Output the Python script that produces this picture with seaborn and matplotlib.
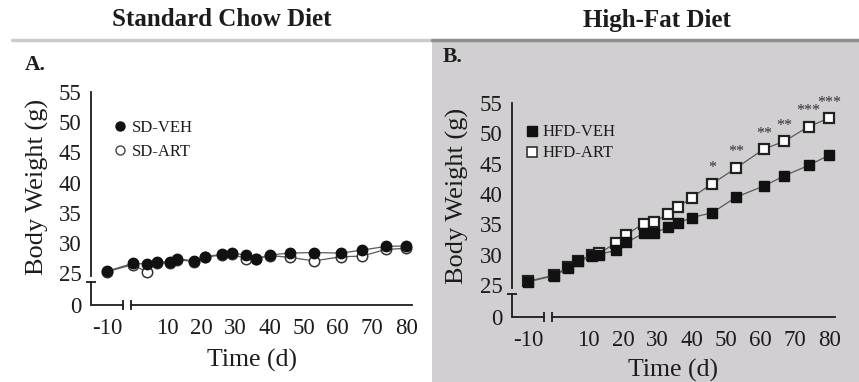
import numpy as np
import pandas as pd
import matplotlib
matplotlib.use("Agg")
import matplotlib.pyplot as plt
from matplotlib.lines import Line2D
from matplotlib.patches import Rectangle
import seaborn as sns

# ---------------- data ----------------
days = [-10, 0, 4, 7, 11, 13, 18, 21, 26, 29, 33, 36, 40, 46, 53, 61, 67, 74, 80]

sd_veh = [25.3, 26.6, 26.5, 26.9, 26.8, 27.4, 27.0, 27.7, 28.1, 28.3, 28.0, 27.3,
          28.0, 28.3, 28.4, 28.3, 28.8, 29.4, 29.5]
sd_art = [25.2, 26.4, 25.2, 26.7, 26.6, 27.2, 26.9, 27.6, 28.0, 28.1, 27.4, 27.3,
          27.9, 27.6, 27.0, 27.7, 27.8, 28.9, 29.1]

hfd_veh = [25.5, 26.5, 27.8, 28.9, 29.7, 30.0, 30.7, 32.0, 33.5, 33.5, 34.5, 35.2,
           36.1, 36.9, 39.5, 41.3, 43.0, 44.7, 46.4]
hfd_art = [25.6, 26.6, 27.9, 29.0, 29.9, 30.2, 31.9, 33.3, 35.1, 35.3, 36.7, 37.8,
           39.4, 41.7, 44.3, 47.4, 48.7, 51.1, 52.5]
hfd_stars = ["", "", "", "", "", "", "", "", "", "", "", "",
             "", "*", "**", "**", "**", "***", "***"]

xtick_vals = [-10, 10, 20, 30, 40, 50, 60, 70, 80]
xtick_labels = ["-10", "10", "20", "30", "40", "50", "60", "70", "80"]
ytick_vals = [0, 25, 30, 35, 40, 45, 50, 55]
ytick_labels = ["0", "25", "30", "35", "40", "45", "50", "55"]

titles = ["Standard Chow Diet", "High-Fat Diet"]
panel_letters = ["A.", "B."]
sd_labels = ["SD-VEH", "SD-ART"]
hfd_labels = ["HFD-VEH", "HFD-ART"]

# ---------------- style ----------------
sns.set_style("white")
plt.rcParams["font.family"] = ["Liberation Serif", "DejaVu Serif"]
TXT = "#1c1c1c"
plt.rcParams["text.color"] = TXT
plt.rcParams["axes.labelcolor"] = TXT
plt.rcParams["xtick.color"] = TXT
plt.rcParams["ytick.color"] = TXT

W, H = 859, 382
fig = plt.figure(figsize=(W / 100, H / 100), dpi=100)
fig.patch.set_facecolor("white")

# gray background of the right half + separator
fig.add_artist(Rectangle((432 / W, 0), 1 - 432 / W, 1 - 41 / H,
                         transform=fig.transFigure, facecolor="#d1cfd1",
                         edgecolor="none", zorder=-10))
fig.add_artist(Line2D([12 / W, 432 / W], [1 - 40 / H] * 2, transform=fig.transFigure,
                      color="#cbcbcb", lw=2.5, zorder=-5))
fig.add_artist(Line2D([432 / W, 1], [1 - 40 / H] * 2, transform=fig.transFigure,
                      color="#8e8e8e", lw=2.5, zorder=-5))

# broken-axis scales
XP = [-100, -5.3, -0.6, 200]
XU = [-97.6, -2.9, -0.6, 200]
YP = [-100, 0, 24.5, 200]
YU = [-80.3, 19.7, 24.5, 200]


def fx(x):
    return np.interp(x, XP, XU)


def ix(u):
    return np.interp(u, XU, XP)


def fy(y):
    return np.interp(y, YP, YU)


def iy(u):
    return np.interp(u, YU, YP)


XMIN, XMAX = -14.65, 81.7
YMIN, YMAX = 0, 55
XSEG1_END, XSEG2_START = -5.3, -0.6
YSEG_TOP_START, YSEG_LOW_END = 24.5, 19.4


def setup_axes(rect):
    ax = fig.add_axes(rect)
    ax.set_facecolor("none")
    ax.set_xscale("function", functions=(fx, ix))
    ax.set_yscale("function", functions=(fy, iy))
    ax.set_xlim(XMIN, XMAX)
    ax.set_ylim(YMIN, YMAX)
    return ax


def decorate(ax, ylab_y, xlab_y):
    for s in ["top", "right"]:
        ax.spines[s].set_visible(False)
    for s in ["left", "bottom"]:
        ax.spines[s].set_color(TXT)
        ax.spines[s].set_linewidth(1.3)
    ax.spines["left"].set_bounds(YSEG_TOP_START, YMAX)
    ax.spines["bottom"].set_bounds(XSEG2_START, XMAX)
    # lower y-axis stub and first x-axis segment
    ax.plot([XMIN, XMIN], [YMIN, YSEG_LOW_END], color=TXT, lw=1.3, clip_on=False)
    ax.plot([XMIN, XSEG1_END], [YMIN, YMIN], color=TXT, lw=1.3, clip_on=False)
    # break caps
    ax.plot([XSEG1_END, XSEG2_START], [YMIN, YMIN], ls="none", marker="|", ms=7,
            mew=1.3, color=TXT, clip_on=False)
    ax.plot([XMIN], [YSEG_LOW_END], ls="none", marker="_", ms=7, mew=1.3,
            color=TXT, clip_on=False)

    ax.set_xticks(xtick_vals)
    ax.set_xticklabels(xtick_labels)
    ax.set_yticks(ytick_vals)
    ax.set_yticklabels(ytick_labels)
    ax.minorticks_off()
    ax.tick_params(axis="both", direction="out", length=5, width=1.3,
                   labelsize=16.5, colors=TXT)
    ax.tick_params(axis="x", pad=4)
    ax.tick_params(axis="y", pad=2)
    ax.set_xlabel("Time (d)", fontsize=18.5)
    ax.set_ylabel("Body Weight (g)", fontsize=19)
    ax.xaxis.label.set_va("center")
    ax.yaxis.label.set_va("center")
    ax.xaxis.set_label_coords(0.50, xlab_y)
    ax.yaxis.set_label_coords(-54 / 321, ylab_y)


LINE = "#5a5a5a"
MK = "#111111"

# ---------------- panel A ----------------
axA = setup_axes([91 / W, 1 - 305 / H, 321 / W, 213 / H])
sns.lineplot(x=days, y=sd_art, ax=axA, estimator=None, color=LINE, lw=0.9,
             marker="o", markersize=7.5, markerfacecolor="white",
             markeredgecolor="#333333", markeredgewidth=1.1, zorder=3)
sns.lineplot(x=days, y=sd_veh, ax=axA, estimator=None, color=LINE, lw=0.9,
             marker="o", markersize=7.5, markerfacecolor=MK,
             markeredgecolor=MK, markeredgewidth=1.0, zorder=4)
decorate(axA, 0.556, -0.258)
hA = [Line2D([], [], ls="none", marker="o", ms=6.5, mfc=MK, mec=MK),
      Line2D([], [], ls="none", marker="o", ms=6.5, mfc="white", mec="#444444", mew=1.0)]
axA.legend(hA, sd_labels, loc="upper left", bbox_to_anchor=(0.065, 0.87),
           frameon=False, fontsize=12, handletextpad=0.2, handlelength=1.0,
           labelspacing=0.5, borderpad=0, borderaxespad=0)

# ---------------- panel B ----------------
axB = setup_axes([512 / W, 1 - 317 / H, 323 / W, 214 / H])
sns.lineplot(x=days, y=hfd_art, ax=axB, estimator=None, color=LINE, lw=0.9,
             marker="s", markersize=7.5, markerfacecolor="white",
             markeredgecolor="#222222", markeredgewidth=1.6, zorder=3)
sns.lineplot(x=days, y=hfd_veh, ax=axB, estimator=None, color=LINE, lw=0.9,
             marker="s", markersize=7.5, markerfacecolor=MK,
             markeredgecolor=MK, markeredgewidth=1.0, zorder=4)
decorate(axB, 0.565, -0.252)
for d, v, s in zip(days, hfd_art, hfd_stars):
    if s:
        axB.text(d, v + 1.9, s, ha="center", va="baseline", fontsize=11.5,
                 color="#333333", clip_on=False)
hB = [Line2D([], [], ls="none", marker="s", ms=6.5, mfc=MK, mec=MK),
      Line2D([], [], ls="none", marker="s", ms=6.5, mfc="white", mec="#333333", mew=1.2)]
axB.legend(hB, hfd_labels, loc="upper left", bbox_to_anchor=(0.035, 0.9),
           frameon=False, fontsize=12, handletextpad=0.15, handlelength=1.0,
           labelspacing=0.3, borderpad=0, borderaxespad=0)

# ---------------- figure texts ----------------
fig.text(222 / W, 1 - 20 / H, titles[0], ha="center", va="center",
         fontsize=18, fontweight="bold")
fig.text(657 / W, 1 - 20 / H, titles[1], ha="center", va="center",
         fontsize=18, fontweight="bold")
fig.text(25 / W, 1 - 65 / H, panel_letters[0], ha="left", va="center",
         fontsize=15.5, fontweight="bold")
fig.text(443 / W, 1 - 57 / H, panel_letters[1], ha="left", va="center",
         fontsize=15.5, fontweight="bold")
# tops of the next row's panel letters (cut by the figure edge, as in the source)
fig.text(25 / W, -9 / H, "C.", ha="left", va="center", fontsize=15.5,
         fontweight="bold")
fig.text(443 / W, -9 / H, "D.", ha="left", va="center", fontsize=15.5,
         fontweight="bold")

fig.savefig("out.png", dpi=100)
